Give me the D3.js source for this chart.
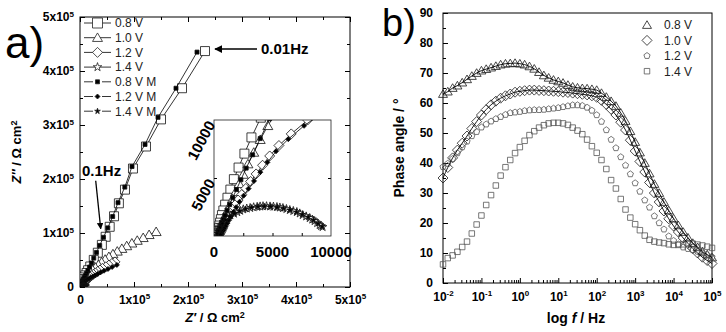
<!DOCTYPE html>
<html>
<head>
<meta charset="utf-8">
<script src="https://cdn.jsdelivr.net/npm/d3@7"></script>
<style>
  body { margin: 0; background: #fff; }
  svg { display: block; font-family: "Liberation Sans", Arial, sans-serif; }
</style>
</head>
<body>
<div id="chart"></div>
<script>
// Nyquist data, [Z', Z''] in ohm cm2, from 0.01 Hz upwards
const nyq08 = [[231500, 436900], [188900, 368100], [150000, 310400], [122200, 260200], [98100, 219400], [83300, 180300], [72000, 155000], [63000, 131000], [55000, 111500], [47500, 93000], [40500, 78000], [33000, 63500], [25500, 50200], [19000, 38000], [15000, 31000], [12200, 26000], [9800, 21500], [7900, 17800], [6300, 14800], [5000, 12300], [4000, 10200], [3200, 8500], [2600, 7100], [2100, 5900], [1700, 4900], [1400, 4000], [1150, 3300], [950, 2700], [800, 2200], [680, 1800], [590, 1450], [520, 1150], [460, 900], [420, 700], [390, 540], [370, 410], [350, 300], [340, 220], [335, 160], [330, 110]];
const nyq10 = [[141000, 102200], [128000, 96700], [117000, 91100], [106000, 86000], [96000, 81000], [86500, 76000], [77500, 71000], [69000, 66000], [61000, 61000], [53500, 56000], [46500, 51000], [40000, 46000], [34000, 41000], [28500, 36000], [23500, 31500], [19300, 27500], [16000, 24000], [13300, 21000], [11000, 18300], [9100, 16000], [7600, 14000], [6400, 12300], [5400, 10800], [4600, 9500], [3950, 8300], [3400, 7200], [2900, 6200], [2500, 5300], [2150, 4500], [1850, 3800], [1580, 3200], [1350, 2650], [1150, 2180], [980, 1780], [840, 1430], [720, 1140], [620, 900], [540, 700], [480, 540], [430, 410], [395, 300], [370, 220], [355, 160], [345, 110]];
const nyq12 = [[64800, 46500], [59000, 43500], [53500, 40500], [48000, 37500], [41500, 34500], [37000, 31500], [32800, 28800], [28600, 26000], [24700, 23500], [21400, 21000], [18600, 18800], [16000, 16700], [13600, 14800], [11600, 13000], [9700, 11400], [8000, 10000], [6600, 8800], [5550, 7800], [4760, 6900], [4150, 6100], [3600, 5350], [3130, 4700], [2720, 4100], [2370, 3570], [2060, 3100], [1800, 2680], [1580, 2300], [1380, 1960], [1210, 1650], [1070, 1370], [950, 1120], [840, 900], [750, 700], [670, 540], [600, 410], [540, 300], [490, 210], [450, 150], [420, 100]];
const nyq14 = [[9280, 776], [9150, 860], [9030, 948], [8820, 1120], [8600, 1290], [8400, 1420], [8180, 1550], [7880, 1690], [7580, 1810], [7330, 1950], [7080, 2070], [6780, 2160], [6480, 2240], [6190, 2330], [5890, 2410], [5630, 2460], [5380, 2500], [5080, 2530], [4790, 2550], [4490, 2570], [4190, 2570], [3940, 2550], [3690, 2520], [3390, 2480], [3090, 2420], [2800, 2370], [2500, 2300], [2240, 2180], [1990, 2060], [1700, 1930], [1400, 1780], [1100, 1520], [810, 1210], [590, 950], [420, 700], [320, 480], [260, 300], [230, 180]];
const nyq08M = [[216700, 435000], [177800, 368100], [144500, 314200], [120400, 264000], [96300, 223100], [83000, 185000], [70400, 156200], [60500, 130500], [51500, 109500], [43500, 92000], [36500, 77000], [30500, 64000], [25500, 53500], [21200, 44500], [17600, 37000], [14600, 30700], [12100, 25500], [10000, 21200], [8300, 17600], [6900, 14600], [5700, 12100], [4750, 10100], [3950, 8400], [3300, 7000], [2750, 5850], [2300, 4850], [1920, 4000], [1600, 3300], [1340, 2700], [1120, 2200], [940, 1780], [800, 1430], [680, 1140], [590, 900], [520, 700], [460, 540], [420, 410], [390, 300], [370, 220], [355, 160], [345, 110]];
const nyq12M = [[68300, 40900], [59500, 37000], [51800, 33400], [44500, 30100], [38200, 27100], [32800, 24300], [27900, 21800], [23600, 19500], [19800, 17400], [16700, 15500], [13900, 13800], [11600, 12200], [9500, 10800], [7700, 9500], [6350, 8350], [5300, 7300], [4570, 6350], [3960, 5500], [3420, 4750], [2940, 4080], [2530, 3480], [2180, 2950], [1890, 2480], [1650, 2060], [1440, 1690], [1260, 1370], [1110, 1090], [980, 850], [870, 650], [780, 490], [710, 360], [650, 260], [610, 180], [580, 120], [560, 80]];
const nyq14M = [[9250, 820], [8900, 1080], [8500, 1360], [8050, 1620], [7550, 1850], [7050, 2060], [6500, 2240], [5950, 2380], [5400, 2480], [4850, 2540], [4300, 2560], [3750, 2530], [3200, 2450], [2700, 2320], [2200, 2150], [1750, 1930], [1350, 1680], [1000, 1380], [720, 1060], [500, 740], [350, 450], [260, 230]];
const nyqNames = ['0.8 V', '1.0 V', '1.2 V', '1.4 V', '0.8 V M', '1.2 V M', '1.4 V M'];

// Bode phase data
const freqHz = [0.01, 0.0133, 0.0178, 0.0237, 0.0316, 0.0422, 0.0562, 0.075,
  0.1, 0.133, 0.178, 0.237, 0.316, 0.422, 0.562, 0.75,
  1, 1.33, 1.78, 2.37, 3.16, 4.22, 5.62, 7.5,
  10, 13.3, 17.8, 23.7, 31.6, 42.2, 56.2, 75,
  100, 133, 178, 237, 316, 422, 562, 750,
  1000, 1330, 1780, 2370, 3160, 4220, 5620, 7500,
  10000, 13300, 17800, 23700, 31600, 42200, 56200, 75000,
  100000];
const phase08 = [63.0, 63.8, 65.0, 65.8, 66.8, 67.9, 69.0, 70.0,
  70.8, 71.3, 71.8, 72.3, 72.8, 73.1, 73.2, 73.3,
  73.1, 72.8, 72.2, 71.4, 70.3, 69.2, 68.4, 67.7,
  67.2, 66.7, 66.0, 65.4, 65.1, 64.9, 64.8, 64.6,
  64.3, 63.3, 62.0, 60.6, 59.0, 56.7, 54.0, 50.6,
  47.0, 43.5, 40.0, 36.5, 33.0, 30.0, 27.0, 24.2,
  21.5, 19.2, 17.0, 15.1, 13.3, 11.9, 10.5, 9.5,
  8.5];
const phase10 = [35.0, 38.5, 41.7, 44.3, 46.6, 49.0, 51.5, 53.8,
  56.0, 57.8, 59.4, 60.6, 61.6, 62.4, 63.0, 63.6,
  63.9, 64.1, 64.3, 64.3, 64.2, 64.1, 64.0, 63.9,
  63.8, 63.6, 63.5, 63.3, 63.1, 62.9, 62.7, 62.4,
  61.9, 60.9, 59.5, 57.9, 56.0, 53.6, 51.0, 47.6,
  44.0, 40.5, 37.0, 33.5, 30.0, 27.0, 24.0, 21.4,
  19.0, 17.0, 15.0, 13.2, 11.5, 10.0, 8.6, 7.5,
  6.5];
const phase12 = [38.7, 39.8, 41.4, 43.3, 45.3, 47.2, 49.0, 50.4,
  51.9, 52.9, 53.9, 54.7, 55.4, 56.1, 56.7, 56.9,
  57.1, 57.4, 57.6, 57.7, 57.7, 57.8, 58.0, 58.2,
  58.4, 58.7, 59.0, 59.3, 59.3, 59.1, 58.5, 57.5,
  56.0, 53.8, 51.0, 47.8, 45.0, 42.0, 39.2, 36.3,
  33.3, 30.5, 27.6, 25.2, 22.3, 20.0, 17.9, 15.6,
  14.1, 12.9, 11.9, 11.4, 11.0, 10.5, 10.0, 9.4,
  8.7];
const phase14 = [6.2, 8.3, 9.2, 10.4, 12.0, 13.8, 16.5, 19.5,
  22.5, 26.0, 29.3, 32.5, 35.8, 38.6, 41.0, 43.3,
  45.3, 47.4, 49.3, 50.6, 51.8, 52.6, 53.2, 53.4,
  53.4, 53.2, 52.7, 51.8, 50.8, 49.6, 47.8, 45.6,
  43.4, 41.0, 38.0, 34.3, 31.5, 28.0, 24.5, 21.8,
  19.6, 17.6, 15.8, 14.4, 13.8, 13.5, 13.3, 12.9,
  12.7, 12.7, 12.9, 13.2, 13.1, 12.8, 12.5, 12.1,
  11.7];
const bodeNames = ['0.8 V', '1.0 V', '1.2 V', '1.4 V'];

const width = 726, height = 332;
const svg = d3.select('#chart').append('svg')
  .attr('width', width)
  .attr('height', height);

// marker outlines, s = overall width in px
function sym(shape, s) {
  const h = s / 2;
  if (shape === 'square') return `M${-h},${-h}h${s}v${s}h${-s}Z`;
  if (shape === 'triangle') return `M0,${-h * 0.95}L${h},${h * 0.75}L${-h},${h * 0.75}Z`;
  if (shape === 'diamond') return `M0,${-h}L${h},0L0,${h}L${-h},0Z`;
  if (shape === 'pentagon') {
    const pts = d3.range(5).map(i => {
      const a = -Math.PI / 2 + i * 2 * Math.PI / 5;
      return [h * Math.cos(a), h * Math.sin(a)];
    });
    return 'M' + pts.join('L') + 'Z';
  }
  return d3.symbol(d3.symbolStar, h * h / 0.891)();
}

// superscript helper for 1x10^5 style labels
function powLabel(sel, base, exp, supSize) {
  sel.text(base);
  sel.append('tspan').attr('dy', '-0.55em').attr('font-size', supSize).text(exp);
}

// ================= panel a: Nyquist =================
const pa = { left: 80, right: 350, top: 17, bottom: 287 };
const xA = d3.scaleLinear().domain([0, 5e5]).range([pa.left, pa.right]);
const yA = d3.scaleLinear().domain([0, 5e5]).range([pa.bottom, pa.top]);
const majorA = d3.range(0, 5e5 + 1, 1e5);
const minorA = d3.range(5e4, 5e5, 1e5);

const gA = svg.append('g');

function tickAxis(g, axis, transform) {
  const a = g.append('g').attr('transform', transform).call(axis);
  a.select('.domain').remove();
  a.selectAll('line').attr('stroke', '#000');
  return a;
}

// minor ticks on all four sides
tickAxis(gA, d3.axisBottom(xA).tickValues(minorA).tickSize(-3).tickFormat(''), `translate(0,${pa.bottom})`);
tickAxis(gA, d3.axisTop(xA).tickValues(minorA).tickSize(-3).tickFormat(''), `translate(0,${pa.top})`);
tickAxis(gA, d3.axisLeft(yA).tickValues(minorA).tickSize(-3).tickFormat(''), `translate(${pa.left},0)`);
tickAxis(gA, d3.axisRight(yA).tickValues(minorA).tickSize(-3).tickFormat(''), `translate(${pa.right},0)`);
tickAxis(gA, d3.axisTop(xA).tickValues(majorA).tickSize(-5).tickFormat(''), `translate(0,${pa.top})`);
tickAxis(gA, d3.axisRight(yA).tickValues(majorA).tickSize(-5).tickFormat(''), `translate(${pa.right},0)`);

const xAxisA = tickAxis(gA, d3.axisBottom(xA).tickValues(majorA).tickSize(-5).tickPadding(8).tickFormat(''), `translate(0,${pa.bottom})`);
const yAxisA = tickAxis(gA, d3.axisLeft(yA).tickValues(majorA).tickSize(-5).tickPadding(6).tickFormat(''), `translate(${pa.left},0)`);
[xAxisA, yAxisA].forEach(ax => {
  ax.selectAll('text')
    .attr('fill', '#000')
    .attr('font-size', 12)
    .attr('font-weight', 'bold')
    .each(function (d) {
      const t = d3.select(this);
      if (d === 0) t.text('0');
      else powLabel(t, `${d / 1e5}x10`, '5', 8);
    });
});

gA.append('rect')
  .attr('x', pa.left).attr('y', pa.top)
  .attr('width', pa.right - pa.left).attr('height', pa.bottom - pa.top)
  .attr('fill', 'none').attr('stroke', '#000').attr('stroke-width', 1);

const nyqSeries = [
  { data: nyq08, shape: 'square', size: 9, fill: '#fff' },
  { data: nyq10, shape: 'triangle', size: 10, fill: '#fff' },
  { data: nyq12, shape: 'diamond', size: 10, fill: '#fff' },
  { data: nyq14, shape: 'star', size: 9, fill: '#fff' },
  { data: nyq08M, shape: 'square', size: 4, fill: '#000' },
  { data: nyq12M, shape: 'diamond', size: 5, fill: '#000' },
  { data: nyq14M, shape: 'star', size: 6, fill: '#000' }
];

function drawNyquist(g, xs, ys, clipId, box) {
  svg.append('clipPath').attr('id', clipId)
    .append('rect')
    .attr('x', box.left).attr('y', box.top)
    .attr('width', box.right - box.left).attr('height', box.bottom - box.top);
  const plot = g.append('g').attr('clip-path', `url(#${clipId})`);
  const line = d3.line().x(d => xs(d[0])).y(d => ys(d[1]));
  nyqSeries.forEach(s => {
    plot.append('path')
      .attr('d', line(s.data))
      .attr('fill', 'none')
      .attr('stroke', '#000')
      .attr('stroke-width', 0.8);
    plot.selectAll(null)
      .data(s.data)
      .enter()
      .append('path')
      .attr('transform', d => `translate(${xs(d[0])},${ys(d[1])})`)
      .attr('d', sym(s.shape, s.size))
      .attr('fill', s.fill)
      .attr('stroke', '#111')
      .attr('stroke-width', 0.8);
  });
}

drawNyquist(gA, xA, yA, 'clipMain', pa);

// legend of panel a
const legA = gA.append('g');
nyqNames.forEach((name, i) => {
  const s = nyqSeries[i];
  const y = 23 + i * 14.7;
  const row = legA.append('g').attr('transform', `translate(0,${y})`);
  if (s.fill === '#000') {
    row.append('line').attr('x1', 84).attr('x2', 93).attr('y1', 0).attr('y2', 0).attr('stroke', '#000').attr('stroke-width', 0.8);
    row.append('line').attr('x1', 102).attr('x2', 111).attr('y1', 0).attr('y2', 0).attr('stroke', '#000').attr('stroke-width', 0.8);
  } else {
    row.append('line').attr('x1', 84).attr('x2', 111).attr('y1', 0).attr('y2', 0).attr('stroke', '#000').attr('stroke-width', 0.8);
  }
  row.append('path')
    .attr('transform', 'translate(97.5,0)')
    .attr('d', sym(s.shape, s.shape === 'square' && s.fill === '#fff' ? 10 : s.size))
    .attr('fill', s.fill).attr('stroke', '#222').attr('stroke-width', 0.8);
  row.append('text')
    .attr('x', 115).attr('y', 0).attr('dy', '0.36em')
    .attr('font-size', 12).attr('fill', '#222')
    .text(name);
});

// inset: zoom of the high-frequency region
const pi = { left: 214, right: 331, top: 120, bottom: 236 };
const xI = d3.scaleLinear().domain([0, 10000]).range([pi.left, pi.right]);
const yI = d3.scaleLinear().domain([0, 10000]).range([pi.bottom, pi.top]);
const gI = svg.append('g');
gI.append('rect')
  .attr('x', pi.left).attr('y', pi.top)
  .attr('width', pi.right - pi.left).attr('height', pi.bottom - pi.top)
  .attr('fill', '#fff');
tickAxis(gI, d3.axisBottom(xI).tickValues([2500, 5000, 7500]).tickSize(-3).tickFormat(''), `translate(0,${pi.bottom})`);
tickAxis(gI, d3.axisLeft(yI).tickValues([5000]).tickSize(-3).tickFormat(''), `translate(${pi.left},0)`);
tickAxis(gI, d3.axisRight(yI).tickValues([5000]).tickSize(-3).tickFormat(''), `translate(${pi.right},0)`);
drawNyquist(gI, xI, yI, 'clipInset', pi);
gI.append('rect')
  .attr('x', pi.left).attr('y', pi.top)
  .attr('width', pi.right - pi.left).attr('height', pi.bottom - pi.top)
  .attr('fill', 'none').attr('stroke', '#222').attr('stroke-width', 0.8);

gI.selectAll('.ix')
  .data([0, 5000, 10000])
  .enter().append('text')
  .attr('x', d => xI(d)).attr('y', 257)
  .attr('text-anchor', 'middle')
  .attr('font-size', 15).attr('font-weight', 'bold')
  .text(d => d);
gI.selectAll('.iy')
  .data([5000, 10000])
  .enter().append('text')
  .attr('transform', d => `translate(${pi.left - 3},${yI(d) + 2}) rotate(-62)`)
  .attr('text-anchor', 'end')
  .attr('dy', '0.35em')
  .attr('font-size', 15).attr('font-weight', 'bold')
  .text(d => d);

// frequency call-outs
svg.append('defs').append('marker')
  .attr('id', 'arrowHead')
  .attr('viewBox', '0 0 10 10')
  .attr('refX', 9).attr('refY', 5)
  .attr('markerWidth', 5).attr('markerHeight', 5)
  .attr('orient', 'auto')
  .append('path').attr('d', 'M0,0L10,5L0,10Z').attr('fill', '#000');

const pLow = nyq08[0];
svg.append('line')
  .attr('x1', xA(pLow[0]) + 52).attr('y1', yA(pLow[1]) - 2)
  .attr('x2', xA(pLow[0]) + 10).attr('y2', yA(pLow[1]) - 2)
  .attr('stroke', '#000').attr('stroke-width', 1.6)
  .attr('marker-end', 'url(#arrowHead)');
svg.append('text')
  .attr('x', xA(pLow[0]) + 56).attr('y', yA(pLow[1]) + 3)
  .attr('font-size', 15).attr('font-weight', 'bold')
  .text('0.01Hz');

const p01 = nyq08[8];
svg.append('line')
  .attr('x1', xA(p01[0]) - 14).attr('y1', yA(p01[1]) - 46)
  .attr('x2', xA(p01[0]) - 9).attr('y2', yA(p01[1]) + 2)
  .attr('stroke', '#000').attr('stroke-width', 1.3)
  .attr('marker-end', 'url(#arrowHead)');
svg.append('text')
  .attr('x', 82).attr('y', 176)
  .attr('font-size', 15).attr('font-weight', 'bold')
  .text('0.1Hz');

// axis titles, panel a
const titleA = svg.append('text')
  .attr('transform', `translate(21,${(pa.top + pa.bottom) / 2}) rotate(-90)`)
  .attr('text-anchor', 'middle')
  .attr('font-size', 13).attr('font-weight', 'bold');
titleA.append('tspan').attr('font-style', 'italic').text('Z\u2033');
titleA.append('tspan').text(' / \u03A9 cm');
titleA.append('tspan').attr('dy', '-0.45em').attr('font-size', 9).text('2');

const titleAx = svg.append('text')
  .attr('x', (pa.left + pa.right) / 2).attr('y', 322)
  .attr('text-anchor', 'middle')
  .attr('font-size', 13).attr('font-weight', 'bold');
titleAx.append('tspan').attr('font-style', 'italic').text('Z\u2032');
titleAx.append('tspan').text(' / \u03A9 cm');
titleAx.append('tspan').attr('dy', '-0.45em').attr('font-size', 9).text('2');

svg.append('text')
  .attr('x', 5).attr('y', 58)
  .attr('font-size', 44)
  .text('a)');

// ================= panel b: Bode phase =================
const pb = { left: 443, right: 712, top: 13, bottom: 283 };
const xB = d3.scaleLog().domain([1e-2, 1e5]).range([pb.left, pb.right]);
const yB = d3.scaleLinear().domain([0, 90]).range([pb.bottom, pb.top]);
const gB = svg.append('g');

const decades = d3.range(-2, 6).map(e => Math.pow(10, e));
const minorB = [];
decades.slice(0, -1).forEach(dv => d3.range(2, 10).forEach(m => minorB.push(dv * m)));

tickAxis(gB, d3.axisBottom(xB).tickValues(minorB).tickSize(-3).tickFormat(''), `translate(0,${pb.bottom})`);
tickAxis(gB, d3.axisLeft(yB).tickValues(d3.range(5, 90, 10)).tickSize(-3).tickFormat(''), `translate(${pb.left},0)`);

const xAxisB = tickAxis(gB, d3.axisBottom(xB).tickValues(decades).tickSize(-5).tickPadding(9).tickFormat(''), `translate(0,${pb.bottom})`);
xAxisB.selectAll('text')
  .attr('fill', '#000').attr('font-size', 12).attr('font-weight', 'bold')
  .each(function (d) {
    powLabel(d3.select(this), '10', String(Math.round(Math.log10(d))), 8);
  });
const yAxisB = tickAxis(gB, d3.axisLeft(yB).tickValues(d3.range(0, 91, 10)).tickSize(-5).tickPadding(10), `translate(${pb.left},0)`);
yAxisB.selectAll('text').attr('fill', '#000').attr('font-size', 12).attr('font-weight', 'bold');

gB.append('rect')
  .attr('x', pb.left).attr('y', pb.top)
  .attr('width', pb.right - pb.left).attr('height', pb.bottom - pb.top)
  .attr('fill', 'none').attr('stroke', '#000').attr('stroke-width', 1);

const bodeSeries = [
  { data: phase08, shape: 'triangle', size: 9, stroke: '#1a1a1a', fit: true },
  { data: phase10, shape: 'diamond', size: 10, stroke: '#1a1a1a', fit: true },
  { data: phase12, shape: 'pentagon', size: 6.5, stroke: '#555', fit: false },
  { data: phase14, shape: 'square', size: 5.5, stroke: '#555', fit: false }
];

const fitLine = d3.line()
  .x((d, i) => xB(freqHz[i]))
  .y(d => yB(d))
  .curve(d3.curveMonotoneX);

bodeSeries.forEach(s => {
  gB.selectAll(null)
    .data(s.data)
    .enter()
    .append('path')
    .attr('transform', (d, i) => `translate(${xB(freqHz[i])},${yB(d)})`)
    .attr('d', sym(s.shape, s.size))
    .attr('fill', 'none')
    .attr('stroke', s.stroke)
    .attr('stroke-width', 0.8);
});
bodeSeries.filter(s => s.fit).forEach(s => {
  gB.append('path')
    .attr('d', fitLine(s.data))
    .attr('fill', 'none')
    .attr('stroke', '#000')
    .attr('stroke-width', 0.9);
});

// legend of panel b
bodeNames.forEach((name, i) => {
  const s = bodeSeries[i];
  const y = 25 + i * 15.4;
  gB.append('path')
    .attr('transform', `translate(647,${y})`)
    .attr('d', sym(s.shape, s.size))
    .attr('fill', 'none').attr('stroke', s.stroke).attr('stroke-width', 0.8);
  gB.append('text')
    .attr('x', 664).attr('y', y).attr('dy', '0.36em')
    .attr('font-size', 12).attr('fill', '#222')
    .text(name);
});

svg.append('text')
  .attr('transform', `translate(404,${(pb.top + pb.bottom) / 2}) rotate(-90)`)
  .attr('text-anchor', 'middle')
  .attr('font-size', 14).attr('font-weight', 'bold')
  .text('Phase angle / \u00B0');

const titleBx = svg.append('text')
  .attr('x', 576).attr('y', 323)
  .attr('text-anchor', 'middle')
  .attr('font-size', 14).attr('font-weight', 'bold');
titleBx.append('tspan').text('log ');
titleBx.append('tspan').attr('font-style', 'italic').text('f');
titleBx.append('tspan').text(' / Hz');

svg.append('text')
  .attr('x', 382).attr('y', 36)
  .attr('font-size', 38)
  .text('b)');
</script>
</body>
</html>
